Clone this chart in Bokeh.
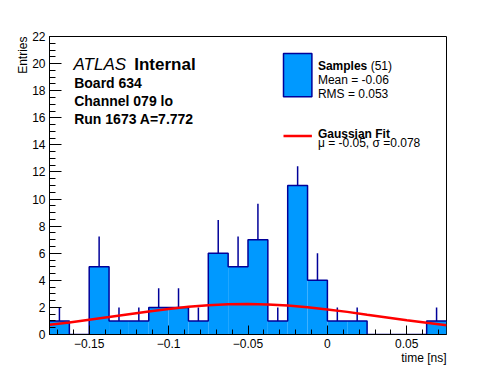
import math
from bokeh.plotting import figure
from bokeh.models import Range1d, FixedTicker, Label, Title
from bokeh.embed import file_html
from bokeh.resources import INLINE

# ---------------- data ----------------
bin_edges = [-0.175, -0.1625, -0.15, -0.1375, -0.125, -0.1125, -0.1, -0.0875,
             -0.075, -0.0625, -0.05, -0.0375, -0.025, -0.0125, 0.0, 0.0125,
             0.025, 0.0375, 0.05, 0.0625, 0.075]
counts = [1, 0, 5, 1, 1, 2, 2, 1, 6, 5, 7, 1, 11, 4, 1, 1, 0, 0, 0, 1]
errors = [1.0, 0.0, 2.24, 1.0, 1.0, 1.41, 1.41, 1.0, 2.45, 2.24, 2.65, 1.0,
          1.43, 2.0, 1.0, 1.0, 0.0, 0.0, 0.0, 1.0]

fit_x = [-0.175, -0.1625, -0.15, -0.1375, -0.125, -0.1125, -0.1, -0.0875,
         -0.075, -0.0625, -0.05, -0.0375, -0.025, -0.0125, 0.0, 0.0125,
         0.025, 0.0375, 0.05, 0.0625, 0.075]
fit_y = [0.72, 0.89, 1.09, 1.29, 1.50, 1.70, 1.88, 2.04,
         2.16, 2.23, 2.25, 2.22, 2.14, 2.02, 1.85, 1.67,
         1.46, 1.26, 1.05, 0.86, 0.69]

x_ticks = [-0.15, -0.1, -0.05, 0, 0.05]
x_tick_labels = ["\u22120.15", "\u22120.1", "\u22120.05", "0", "0.05"]
x_minor = [round(-0.17 + 0.01 * i, 4) for i in range(25)]
y_ticks = [0, 2, 4, 6, 8, 10, 12, 14, 16, 18, 20, 22]
y_minor = [0.5 * i for i in range(45)]

x_lo, x_hi = -0.175, 0.075
y_lo, y_hi = 0, 22

FILL = "#0099ff"
EDGE = "#000099"
FONT = "Liberation Sans"

p = figure(width=496, height=372, x_range=Range1d(x_lo, x_hi),
           y_range=Range1d(y_lo, y_hi), output_backend="svg",
           toolbar_location=None, min_border_left=49, min_border_right=50,
           min_border_top=36, min_border_bottom=38)
p.xgrid.visible = False
p.ygrid.visible = False
p.outline_line_color = "black"
p.outline_line_width = 1
p.background_fill_color = "white"
p.border_fill_color = "white"

# histogram fill
p.quad(left=bin_edges[:-1], right=bin_edges[1:], top=counts, bottom=0,
       fill_color=FILL, line_color=None)
# histogram outline
p.step(x=bin_edges, y=counts + [counts[-1]], mode="after",
       line_color=EDGE, line_width=1.5)
# error bars (upper half visible)
centers = [(a + b) / 2 for a, b in zip(bin_edges[:-1], bin_edges[1:])]
eb_x = [c for c, n in zip(centers, counts) if n > 0]
eb_y0 = [n for n in counts if n > 0]
eb_y1 = [n + e for n, e in zip(counts, errors) if n > 0]
p.segment(x0=eb_x, y0=eb_y0, x1=eb_x, y1=eb_y1, line_color=EDGE, line_width=1.5)
# gaussian fit
p.line(fit_x, fit_y, line_color="#ff0000", line_width=2.5)

# axes
xa = p.xaxis[0]
xa.ticker = FixedTicker(ticks=x_ticks, minor_ticks=x_minor)
xa.major_label_overrides = dict(zip(x_ticks, x_tick_labels))
xa.major_tick_in = 9
xa.major_tick_out = 0
xa.minor_tick_in = 5
xa.minor_tick_out = 0
xa.major_label_standoff = 4

ya = p.yaxis[0]
ya.ticker = FixedTicker(ticks=y_ticks, minor_ticks=y_minor)
ya.major_tick_in = 12
ya.major_tick_out = 0
ya.minor_tick_in = 6
ya.minor_tick_out = 0
ya.major_label_standoff = 4

for ax in (xa, ya):
    ax.axis_line_color = "black"
    ax.major_tick_line_color = "black"
    ax.minor_tick_line_color = "black"
    ax.major_label_text_font = FONT
    ax.major_label_text_font_size = "12px"
    ax.major_label_text_color = "black"

# axis titles (aligned to the end of each axis, as in the reference)
have_align = True
try:
    xa.axis_label_align = "right"
    ya.axis_label_align = "right"
except Exception:
    have_align = False

if have_align:
    xa.axis_label = "time [ns]"
    ya.axis_label = "Entries"
    xa.axis_label_standoff = -4
    ya.axis_label_standoff = 6
    for ax in (xa, ya):
        ax.axis_label_text_font = FONT
        ax.axis_label_text_font_size = "12px"
        ax.axis_label_text_font_style = "normal"
        ax.axis_label_text_color = "black"
else:
    p.add_layout(Title(text="time [ns]", align="right", vertical_align="top",
                       standoff=0, text_font=FONT, text_font_size="12px",
                       text_font_style="normal", text_color="black"), "below")
    p.add_layout(Title(text="Entries", align="right", vertical_align="bottom",
                       standoff=0, text_font=FONT, text_font_size="12px",
                       text_font_style="normal", text_color="black"), "left")

# frame geometry in pixels (reference) for placing annotations
FL, FR, FT, FB = 49.3, 446.3, 36.4, 334.5


def px2x(px):
    return x_lo + (px - FL) / (FR - FL) * (x_hi - x_lo)


def py2y(py):
    return y_lo + (FB - py) / (FB - FT) * (y_hi - y_lo)


def lab(text, px, py, size, style="normal", align="left", baseline="alphabetic", angle=0.0):
    p.add_layout(Label(x=x_lo, y=y_hi, x_offset=px - FL, y_offset=-(py - FT),
                       text=text, text_font=FONT, text_font_size=size,
                       text_font_style=style, text_align=align,
                       text_baseline=baseline, angle=angle, text_color="black"))


# ATLAS block
lab("ATLAS", 73.3, 64.3, "17px", style="italic")
lab("Internal", 134.0, 64.3, "17px", style="bold")
lab("Board 634", 74.0, 82.5, "14px", style="bold")
lab("Channel 079 lo", 74.0, 101.0, "14px", style="bold")
lab("Run 1673 A=7.772", 74.0, 119.3, "14px", style="bold")

# legend
p.quad(left=[px2x(283.3)], right=[px2x(311.7)], top=[py2y(53.3)],
       bottom=[py2y(96.7)], fill_color=FILL, line_color=EDGE, line_width=1.5)
p.segment(x0=[px2x(283.3)], y0=[py2y(136.0)], x1=[px2x(311.7)], y1=[py2y(136.0)],
          line_color="#ff0000", line_width=2.5)
lab("Samples", 317.7, 65.5, "12px", style="bold")
lab("(51)", 370.5, 65.5, "12px")
lab("Mean = -0.06", 317.7, 80.0, "12px")
lab("RMS = 0.053", 317.7, 94.0, "12px")
lab("Gaussian Fit", 317.7, 134.0, "12px", style="bold")
lab("\u03bc = -0.05, \u03c3 =0.078", 317.7, 142.5, "12px")

open("out.html", "w").write(file_html(p, INLINE))
